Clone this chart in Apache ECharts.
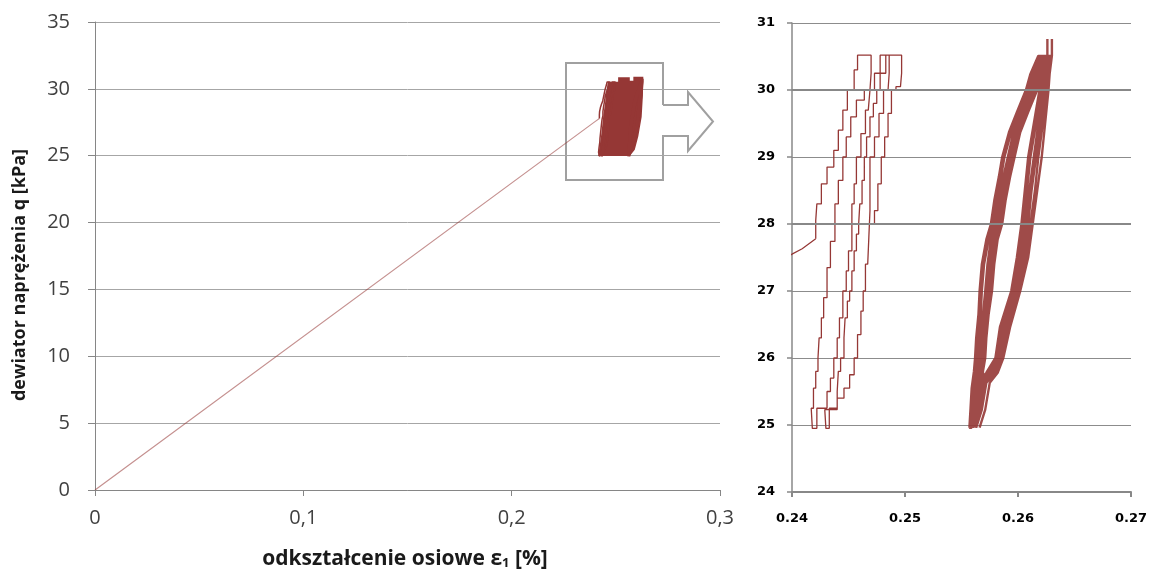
<!DOCTYPE html>
<html><head><meta charset="utf-8">
<script src="https://cdn.jsdelivr.net/npm/echarts/dist/echarts.min.js"></script>
<style>html,body{margin:0;padding:0;background:#fff}#c{width:1152px;height:571px}</style>
</head><body><div id="c"></div>
<script>
// ---- data (strain ε1 in %, deviator q in kPa) ----
const initialLoading = [[0,0],[0.2400,27.55],[0.2409,27.63],[0.2421,27.78]];

// first cycles (visible left group in the zoom panel)
const earlyCycles = [
  [0.2421,27.78],[0.2422,28.05],[0.2426,28.3],[0.2431,28.6],[0.2437,28.85],[0.2441,29.1],[0.2445,29.4],[0.2449,29.7],[0.2455,30.0],[0.2458,30.3],[0.2462,30.52],[0.2470,30.52],
  [0.2469,30.25],[0.24675,30.0],[0.2465,29.7],[0.2461,29.35],[0.2457,29.0],[0.2455,28.6],[0.2453,28.3],[0.2453,28.0],[0.2450,27.6],[0.2448,27.3],[0.2445,27.0],[0.2442,26.6],[0.2440,26.3],[0.2437,26.0],[0.2434,25.7],[0.2431,25.5],[0.2429,25.25],[0.2422,25.25],[0.2418,24.95],
  [0.2417,24.95],[0.2419,25.25],[0.2421,25.55],[0.2423,25.8],[0.2424,26.0],[0.2426,26.3],[0.2428,26.6],[0.2431,26.9],[0.2434,27.35],[0.2438,27.74],[0.2438,28.0],[0.2441,28.3],[0.2445,28.65],[0.2448,29.0],[0.2452,29.3],[0.2457,29.6],[0.2464,29.85],[0.2473,30.0],[0.2478,30.25],[0.2483,30.52],[0.2486,30.52],
  [0.2485,30.25],[0.2481,30.0],[0.2477,29.65],[0.2473,29.3],[0.2469,29.0],[0.2469,28.6],[0.2468,28.2],[0.2467,27.8],[0.2465,27.4],[0.2463,27.0],[0.2461,26.7],[0.2458,26.35],[0.2455,26.0],[0.2451,25.75],[0.2446,25.55],[0.2440,25.4],[0.2433,25.25],[0.2430,24.95],
  [0.2429,24.95],[0.2440,25.23],[0.2441,25.5],[0.2443,25.8],[0.2446,26.0],[0.2447,26.3],[0.2449,26.6],[0.2451,26.85],[0.2453,27.0],[0.2455,27.3],[0.2457,27.6],[0.2459,27.85],[0.2460,28.0],[0.2462,28.3],[0.2464,28.65],[0.2466,29.0],[0.2469,29.3],[0.2472,29.6],[0.2475,29.8],[0.2478,30.0],[0.2483,30.25],[0.2490,30.52],[0.2497,30.52],
  [0.2496,30.25],[0.2492,30.05],[0.2488,30.0],[0.2485,29.65],[0.2482,29.3],[0.2479,29.0],[0.2476,28.6],[0.2473,28.2],[0.2472,28.0]
];

// late cycles (right group): stress levels and strain per loop
const loadLevels   = [24.96,25.25,25.55,25.8,26.0,26.3,26.65,27.0,27.4,27.77,28.0,28.35,28.7,29.0,29.37,29.67,30.0,30.24,30.51];
const unloadLevels = [30.51,30.24,30.0,29.5,29.0,28.5,28.0,27.5,27.0,26.46,26.0,25.78,25.63,25.23,24.96];
const loopA_load   = [.2557,.2558,.2559,.2561,.2562,.2563,.2565,.2566,.2568,.2572,.2576,.2579,.2583,.2586,.2592,.2599,.2607,.2611,.2618];
const loopA_unload = [.2623,.2621,.2619,.2614,.2609,.2606,.2603,.2599,.2594,.2584,.2580,.2572,.2563,.2559,.2557];
const loopB_load   = [.2559,.2560,.2561,.2563,.2564,.2565,.2567,.2568,.2570,.2574,.2578,.2581,.2585,.2588,.2594,.2601,.2609,.2613,.2619];
const loopB_unload = [.2625,.2622,.2621,.2616,.2611,.2608,.2605,.2601,.2596,.2586,.2581,.2574,.2565,.2561,.2559];
const loopC_load   = [.2560,.2562,.2563,.2564,.2566,.2567,.2569,.2571,.2573,.2576,.2580,.2583,.2587,.2591,.2596,.2603,.2611,.2614,.2620];
const loopC_unload = [.2626,.2624,.2622,.2618,.2614,.2610,.2607,.2603,.2597,.2588,.2583,.2576,.2567,.2563,.2560];
const loopD_load   = [.2561,.2563,.2565,.2566,.2567,.2569,.2570,.2573,.2575,.2578,.2582,.2585,.2589,.2593,.2598,.2605,.2613,.2616,.2621];
const loopD_unload = [.2627,.2625,.2624,.2620,.2616,.2612,.2609,.2605,.2599,.2590,.2584,.2578,.2570,.2566,.2562];
const loopE_load   = [.2563,.2564,.2566,.2568,.2569,.2570,.2572,.2575,.2577,.2580,.2584,.2587,.2591,.2595,.2600,.2607,.2615,.2618,.2622];
const loopE_unload = [.2628,.2627,.2625,.2622,.2618,.2615,.2611,.2607,.2600,.2591,.2586,.2580,.2572,.2568,.2563];
const loopF_load   = [.2564,.2566,.2568,.2569,.2571,.2572,.2574,.2577,.2579,.2582,.2586,.2589,.2593,.2597,.2602,.2609,.2617,.2619,.2624];
const loopF_unload = [.2630,.2628,.2627,.2624,.2621,.2617,.2613,.2609,.2602,.2593,.2587,.2582,.2575,.2571,.2566];
const loopPeaks    = {E:[0.2626,30.76], F:[0.2630,30.76]};

// outline of the dense band of all cycles as seen in the main plot
const bandEnvelope = [[0.2415,24.97],[0.2423,25.8],[0.2431,26.7],[0.2439,27.9],[0.2450,29.15],[0.2455,29.9],[0.2462,30.54],[0.2511,30.54],[0.2511,30.87],[0.2567,30.87],[0.2567,30.6],[0.2584,30.6],[0.2584,30.9],[0.2632,30.9],[0.2630,29.5],[0.2624,27.9],[0.2608,26.45],[0.2591,25.45],[0.2567,24.97]];

const mainXTicks = ['0','0,1','0,2','0,3'];
const zoomXTicks = ['0.24','0.25','0.26','0.27'];

// ---- build ----
function loop(load, unload, peak){
  const pts = load.map((x,i)=>[x, loadLevels[i]]);
  if (peak) { pts.push([peak[0],30.51],[peak[0],peak[1]],[peak[0],30.51]); }
  unload.forEach((x,i)=>pts.push([x, unloadLevels[i]]));
  return pts;
}
const lateCycles = [].concat(
  loop(loopA_load, loopA_unload), loop(loopB_load, loopB_unload),
  loop(loopC_load, loopC_unload), loop(loopD_load, loopD_unload),
  loop(loopE_load, loopE_unload, loopPeaks.E), loop(loopF_load, loopF_unload, loopPeaks.F)
);

const RED = '#953735';
const chart = echarts.init(document.getElementById('c'), null, {renderer:'canvas'});
const mainFont = '"Open Sans", Lato, sans-serif';
const zoomFont = '"DejaVu Sans", Verdana, sans-serif';

chart.setOption({
  animation:false,
  backgroundColor:'#fff',
  grid:[
    {left:95, top:22, width:625, height:468},
    {left:792, top:23, width:339, height:469}
  ],
  xAxis:[
    {gridIndex:0, type:'value', min:0, max:0.3, interval:0.1,
     axisLine:{lineStyle:{color:'#868686', width:1}},
     axisTick:{show:true, length:6, lineStyle:{color:'#868686'}},
     axisLabel:{margin:18, fontSize:20, color:'#404040', fontFamily:mainFont,
       formatter:(v)=>mainXTicks[Math.round(v*10)]},
     splitLine:{show:false}},
    {gridIndex:1, type:'value', min:0.24, max:0.27, interval:0.01,
     axisLine:{lineStyle:{color:'#888', width:2}},
     axisTick:{show:true, length:5, lineStyle:{color:'#888', width:2}},
     axisLabel:{margin:20, fontSize:13, fontWeight:'bold', color:'#000', fontFamily:zoomFont,
       formatter:(v)=>zoomXTicks[Math.round((v-0.24)*100)]},
     splitLine:{show:false}}
  ],
  yAxis:[
    {gridIndex:0, type:'value', min:0, max:35, interval:5,
     axisLine:{show:true, lineStyle:{color:'#868686'}},
     axisTick:{show:true, length:7, lineStyle:{color:'#868686'}},
     axisLabel:{margin:25, fontSize:20, color:'#404040', fontFamily:mainFont},
     splitLine:{lineStyle:{color:'#a6a6a6', width:1}}},
    {gridIndex:1, type:'value', min:24, max:31, interval:1,
     axisLine:{show:true, lineStyle:{color:'#888', width:1.5}},
     axisTick:{show:true, length:5, lineStyle:{color:'#888', width:1.5}},
     axisLabel:{margin:17, fontSize:13, fontWeight:'bold', color:'#000', fontFamily:zoomFont},
     splitLine:{lineStyle:{color:'#8c8c8c', width:1}}}
  ],
  series:[
    {type:'line', xAxisIndex:0, yAxisIndex:0, data:initialLoading, showSymbol:false,
     lineStyle:{color:RED, width:1.2, opacity:0.55}},
    {type:'custom', xAxisIndex:0, yAxisIndex:0, data:bandEnvelope, clip:true,
     renderItem:(params, api)=>{
       if (params.dataIndex !== 0) return null;
       return {type:'polygon', shape:{points:bandEnvelope.map(p=>api.coord(p))}, style:{fill:RED}};
     }},
    {type:'line', xAxisIndex:0, yAxisIndex:0, data:earlyCycles, step:'start', showSymbol:false,
     lineStyle:{color:RED, width:1.5}},
    {type:'line', xAxisIndex:0, yAxisIndex:0, data:lateCycles, showSymbol:false,
     lineStyle:{color:RED, width:1.5}},

    {type:'line', xAxisIndex:1, yAxisIndex:1, data:initialLoading, showSymbol:false,
     lineStyle:{color:RED, width:1.2},
     markLine:{silent:true, symbol:'none', label:{show:false},
       lineStyle:{color:'#888', width:2, type:'solid'}, data:[{yAxis:28},{yAxis:30}]}},
    {type:'line', xAxisIndex:1, yAxisIndex:1, data:earlyCycles, step:'start', showSymbol:false,
     lineStyle:{color:RED, width:1.3}},
    {type:'line', xAxisIndex:1, yAxisIndex:1, data:lateCycles, showSymbol:false,
     lineStyle:{color:RED, width:2.4, opacity:0.9}}
  ],
  graphic:[
    {type:'polyline', silent:true,
     shape:{points:[[663,105],[663,63],[566,63],[566,180],[663,180],[663,136],[688,136],[688,151],[713,121.5],[688,92],[688,105],[663,105]]},
     style:{stroke:'#a0a0a0', lineWidth:2, fill:null}},
    {type:'text', silent:true, x:20, y:275, rotation:Math.PI/2,
     style:{text:'dewiator naprężenia q [kPa]', align:'center', verticalAlign:'middle',
       font:'bold 18px "Open Sans", Lato, sans-serif', fill:'#1a1a1a'}},
    {type:'text', silent:true, x:405, y:559,
     style:{text:'odkształcenie osiowe ε{s|1} [%]', align:'center', verticalAlign:'middle',
       font:'bold 21px "Open Sans", Lato, sans-serif', fill:'#1a1a1a',
       rich:{s:{fontSize:13, fontWeight:'bold', fontFamily:'"Open Sans"', verticalAlign:'bottom', padding:[8,0,0,0]}}}}
  ]
});
</script></body></html>
